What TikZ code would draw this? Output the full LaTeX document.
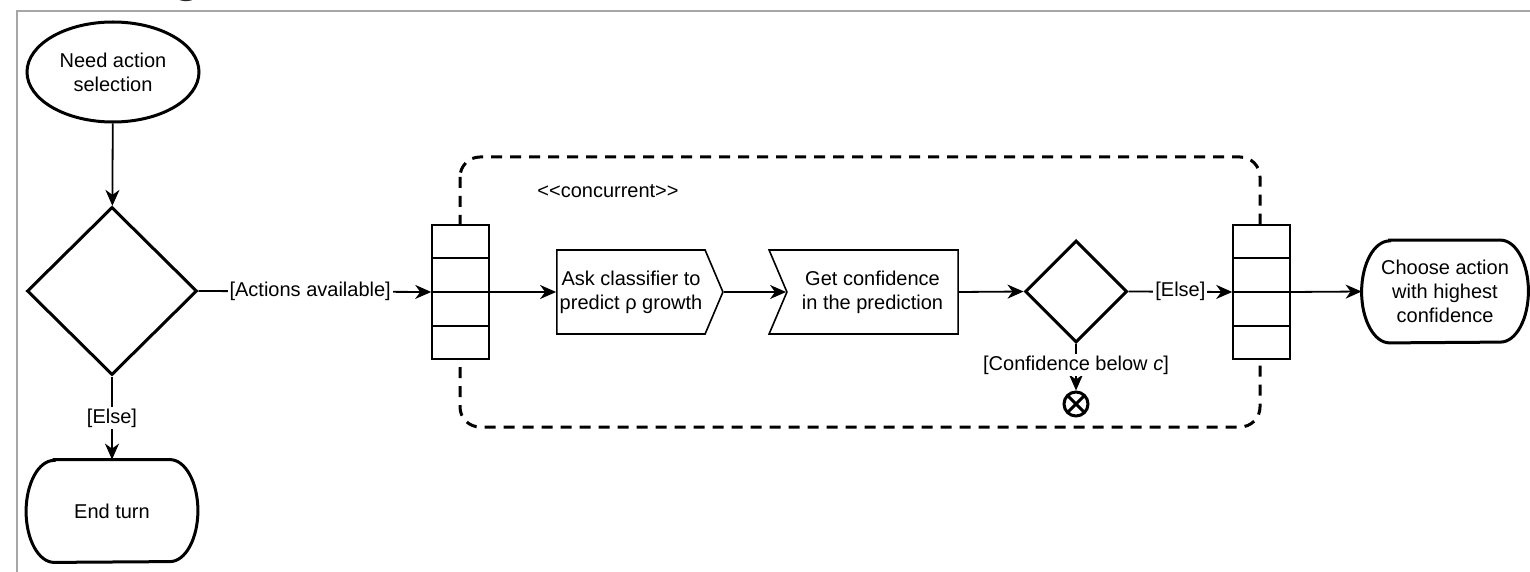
\documentclass[tikz,border=0pt]{standalone}
\usepackage{fontspec}
\setmainfont{Liberation Sans}
\usetikzlibrary{arrows.meta,shapes.geometric,shapes.symbols,calc}

\tikzset{
  flow/.style={-{Stealth[length=8pt,width=7pt,inset=2.5pt]}, line width=0.9pt},
  guard/.style={fill=white, inner sep=1pt},
  decision/.style={diamond, draw, line width=1.5pt, inner sep=0pt},
  actionsig/.style={signal, draw, line width=0.8pt, signal pointer angle=134,
    align=center, inner sep=0pt, minimum height=42pt},
  pinbar/.style={rectangle, draw, fill=white, line width=0.8pt,
    minimum width=28.5pt, minimum height=67pt},
  terminal/.style={rectangle, align=center, inner sep=0pt},
}

% stadium outline with elliptical ends round a named node
\newcommand{\termoutline}[1]{%
  \draw[line width=1.5pt] ([xshift=14pt]#1.north west) -- ([xshift=-14pt]#1.north east)
    arc[start angle=90, end angle=-90, x radius=14pt, y radius=25.5pt]
    -- ([xshift=14pt]#1.south west)
    arc[start angle=270, end angle=90, x radius=14pt, y radius=25.5pt] -- cycle;}

\begin{document}
\begin{tikzpicture}[x=0.5pt, y=-0.5pt, font=\fontsize{10}{12}\selectfont]
  \useasboundingbox (0,0) rectangle (1530,572);
  % Title (cut off at the top) and frame
  \node[anchor=base west, font=\bfseries\fontsize{24}{24}\selectfont, text=black!85,
    inner sep=0pt] (title) at (-12,-8) {Selecting an action};
  \draw[gray!70, line width=0.8pt] (1530,11) -- (17,11) -- (17,572);
  % Concurrent expansion region
  \draw[line width=1.5pt, dash pattern=on 5.5pt off 4pt, rounded corners=10pt]
    (460,157) rectangle (1260,427);
  \node (conc) at (608,191) {{<}{<}concurrent{>}{>}};
  % Nodes
  \node[ellipse, draw, line width=1.5pt, minimum width=86pt, minimum height=50pt,
    inner sep=0pt, align=center] (need) at (113,72) {Need action\\selection};
  \node[decision, minimum width=85pt, minimum height=84pt] (dec1) at (112,291) {};
  \node[terminal, minimum width=85.5pt, minimum height=51pt] (endt) at (112,511) {End turn};
  \node[pinbar] (fork) at (460.5,292) {};
  \node[actionsig, signal to=east, minimum width=83pt] (ask) at (631,292)
    {Ask classifier to\\predict ρ growth};
  \node[actionsig, signal to=nowhere, signal from=west, minimum width=94.5pt] (getc)
    at (872.5,292) {Get confidence\\in the prediction};
  \node[decision, minimum width=51pt, minimum height=51pt] (dec2) at (1076,291.5) {};
  \node[pinbar] (join) at (1261.5,292) {};
  \node[terminal, minimum width=83pt, minimum height=51pt] (choose) at (1445,291.5)
    {Choose action\\with highest\\confidence};
  \node[circle, draw, line width=1.5pt, minimum size=12pt, inner sep=0pt,
    path picture={\draw[line width=1.5pt] (path picture bounding box.north west)
      -- (path picture bounding box.south east)
      (path picture bounding box.north east) -- (path picture bounding box.south west);}]
    (final) at (1076,404) {};
  \termoutline{endt}
  \termoutline{choose}
  % Pin dividers
  \foreach \b in {fork,join}
    \foreach \f in {0.25,0.5,0.75}
      \draw[line width=0.8pt] ($(\b.north west)!\f!(\b.south west)$)
        -- ($(\b.north east)!\f!(\b.south east)$);
  % Connectors
  \draw[flow] (need) -- (dec1);
  \draw[flow] (dec1.east) -- node[guard, pos=0.48] {[Actions available]} (fork.west);
  \draw[flow] (dec1.south) -- node[guard] {[Else]} (endt.north);
  \draw[flow] (fork.east) -- (ask.west);
  \draw[flow] (ask.east) -- (getc.west);
  \draw[flow] (getc.east) -- (dec2.west);
  \draw[flow] (dec2.east) -- node[guard] {[Else]} (join.west);
  \draw[flow] (join.east) -- (choose.west);
  \draw[flow] (dec2.south) -- node[guard, pos=0.45] {[Confidence below \textit{c}]} (final.north);
\end{tikzpicture}
\end{document}
